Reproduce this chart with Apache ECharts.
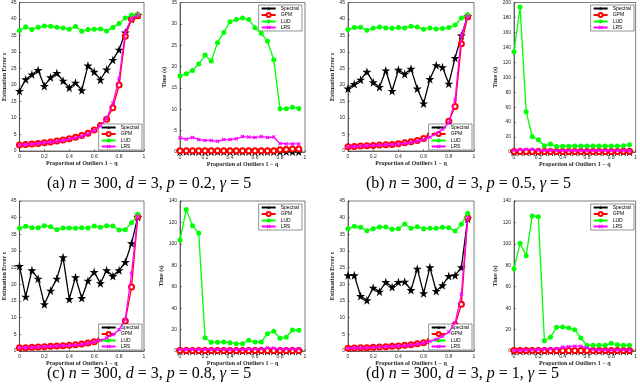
<!DOCTYPE html>
<html>
<head>
<meta charset="utf-8">
<script src="https://cdn.jsdelivr.net/npm/echarts@6/dist/echarts.min.js"></script>
<style>
html, body { margin: 0; padding: 0; background: #fff; }
#chart { width: 640px; height: 392px; }
</style>
</head>
<body>
<div id="chart"></div>
<script>
// proportion of outliers 1 - q
const xs = [0, 0.05, 0.1, 0.15, 0.2, 0.25, 0.3, 0.35, 0.4, 0.45, 0.5, 0.55, 0.6, 0.65, 0.7, 0.75, 0.8, 0.85, 0.9, 0.95];
const methodNames = ['Spectral', 'GPM', 'LUD', 'LRS'];

// (a) p = 0.2
const errSpecA = [18.2, 21.7, 23.2, 24.5, 19.7, 22.3, 23.6, 21.3, 19.2, 20.7, 18.4, 25.9, 24.0, 21.6, 24.7, 27.6, 30.7, 35.9, 40.0, 41.2];
const errGpmA  = [1.8, 2.0, 2.1, 2.3, 2.5, 2.7, 3.0, 3.3, 3.7, 4.2, 4.7, 5.4, 6.4, 7.7, 9.6, 13.1, 20.0, 34.8, 40.0, 41.0];
const errLudA  = [36.5, 37.6, 36.8, 37.5, 37.9, 37.8, 37.5, 37.3, 36.9, 37.7, 36.3, 36.8, 36.9, 37.0, 36.4, 37.4, 38.6, 40.3, 41.2, 41.3];
const errLrsA  = [1.8, 2.0, 2.1, 2.3, 2.5, 2.7, 2.9, 3.2, 3.6, 4.0, 4.5, 5.2, 6.2, 7.6, 9.8, 14.5, 22.0, 36.0, 40.2, 41.1];
const timeSpecA = [0.1, 0.1, 0.1, 0.1, 0.1, 0.1, 0.1, 0.1, 0.1, 0.1, 0.1, 0.1, 0.1, 0.1, 0.1, 0.1, 0.1, 0.1, 0.1, 0.1];
const timeGpmA  = [0.3, 0.3, 0.3, 0.3, 0.3, 0.3, 0.3, 0.3, 0.3, 0.3, 0.3, 0.3, 0.3, 0.3, 0.3, 0.3, 0.5, 0.6, 0.7, 0.7];
const timeLudA  = [17.8, 18.3, 19.1, 20.6, 22.7, 21.3, 25.6, 28.0, 30.5, 31.0, 31.4, 31.0, 29.1, 27.8, 25.9, 21.6, 10.1, 10.1, 10.5, 10.2];
const timeLrsA  = [3.3, 3.0, 3.4, 2.9, 2.7, 2.7, 2.5, 2.9, 2.9, 3.1, 3.6, 3.5, 3.4, 3.6, 3.4, 3.5, 2.0, 1.9, 1.9, 1.9];

// (b) p = 0.5
const errSpecB = [18.9, 20.3, 21.6, 24.0, 20.8, 19.4, 24.4, 18.2, 24.6, 23.3, 24.9, 18.9, 14.4, 21.8, 26.0, 25.4, 20.4, 28.2, 35.0, 40.9];
const errGpmB  = [1.3, 1.4, 1.5, 1.6, 1.7, 1.8, 1.9, 2.0, 2.2, 2.5, 2.8, 3.2, 3.8, 4.6, 5.5, 7.0, 9.0, 13.5, 32.5, 40.7];
const errLudB  = [36.8, 37.4, 37.5, 36.6, 37.2, 37.6, 37.3, 37.2, 37.4, 37.3, 37.8, 37.6, 36.9, 37.3, 37.0, 37.1, 37.4, 38.2, 40.3, 41.3];
const errLrsB  = [1.3, 1.4, 1.5, 1.6, 1.7, 1.8, 1.9, 2.0, 2.1, 2.3, 2.6, 3.0, 3.5, 4.2, 5.2, 6.6, 8.5, 15.5, 35.0, 40.8];
const timeSpecB = [0.2, 0.2, 0.2, 0.2, 0.2, 0.2, 0.2, 0.2, 0.2, 0.2, 0.2, 0.2, 0.2, 0.2, 0.2, 0.2, 0.2, 0.2, 0.2, 0.2];
const timeGpmB  = [0.8, 0.8, 0.8, 0.8, 0.8, 0.8, 0.8, 0.8, 0.8, 0.8, 0.8, 0.8, 0.8, 0.8, 0.8, 0.8, 0.8, 0.8, 0.9, 1.0];
const timeLudB  = [134, 194, 54, 20.4, 16.4, 8.4, 10.6, 7.5, 7.8, 7.8, 7.9, 8.0, 8.0, 8.0, 8.0, 8.0, 8.0, 8.0, 8.2, 9.8];
const timeLrsB  = [2.0, 3.0, 3.5, 3.5, 2.5, 2.0, 2.0, 2.0, 2.0, 2.0, 2.0, 2.0, 2.0, 2.0, 2.0, 2.0, 2.0, 2.0, 2.0, 2.0];

// (c) p = 0.8
const errSpecC = [25.5, 16.3, 24.2, 21.7, 14.0, 18.1, 21.7, 28.1, 15.6, 22.1, 15.9, 21.1, 23.7, 20.3, 24.2, 22.5, 24.2, 26.7, 32.3, 40.2];
const errGpmC  = [1.0, 1.0, 1.1, 1.2, 1.3, 1.4, 1.5, 1.6, 1.7, 1.9, 2.1, 2.4, 2.8, 3.3, 4.0, 5.0, 6.5, 9.0, 19.2, 40.3];
const errLudC  = [36.8, 37.4, 37.0, 37.0, 37.6, 37.3, 36.4, 36.9, 36.9, 36.8, 37.0, 36.9, 37.5, 37.1, 37.6, 37.5, 36.3, 36.4, 38.5, 41.0];
const errLrsC  = [1.0, 1.0, 1.1, 1.2, 1.3, 1.4, 1.5, 1.6, 1.7, 1.8, 2.0, 2.3, 2.7, 3.2, 3.9, 4.9, 6.4, 9.5, 23.3, 40.5];
const timeSpecC = [0.1, 0.1, 0.1, 0.1, 0.1, 0.1, 0.1, 0.1, 0.1, 0.1, 0.1, 0.1, 0.1, 0.1, 0.1, 0.1, 0.1, 0.1, 0.1, 0.1];
const timeGpmC  = [0.5, 0.5, 0.5, 0.5, 0.5, 0.5, 0.5, 0.5, 0.5, 0.5, 0.5, 0.5, 0.5, 0.5, 0.5, 0.5, 0.5, 0.5, 0.5, 0.5];
const timeLudC  = [103.6, 132, 117, 109.8, 12.4, 8.1, 8.1, 8.4, 7.8, 6.8, 6.8, 10.0, 8.4, 8.4, 16.2, 18.4, 11.8, 12.8, 19.6, 19.3];
const timeLrsC  = [1.5, 1.5, 1.5, 1.5, 1.5, 1.5, 1.5, 1.5, 1.5, 1.5, 1.5, 1.8, 1.8, 1.8, 3.0, 2.5, 1.8, 1.8, 1.8, 1.8];

// (d) p = 1
const errSpecD = [22.7, 22.7, 16.5, 15.2, 19.0, 17.8, 20.7, 19.2, 20.7, 20.8, 18.3, 24.7, 17.3, 25.1, 18.0, 19.7, 22.5, 22.7, 25.1, 39.7];
const errGpmD  = [0.8, 0.9, 0.95, 1.0, 1.1, 1.2, 1.3, 1.4, 1.5, 1.7, 1.9, 2.2, 2.5, 3.0, 3.6, 4.5, 5.8, 7.8, 14.0, 40.0];
const errLudD  = [36.7, 37.4, 37.1, 36.1, 36.7, 37.2, 37.2, 36.5, 36.7, 38.1, 36.8, 37.3, 36.7, 36.8, 36.8, 37.1, 37.0, 36.0, 38.0, 41.3];
const errLrsD  = [0.8, 0.9, 0.95, 1.0, 1.1, 1.2, 1.3, 1.4, 1.5, 1.6, 1.8, 2.1, 2.4, 2.9, 3.5, 4.4, 5.7, 8.5, 17.0, 40.0];
const timeSpecD = [0.1, 0.1, 0.1, 0.1, 0.1, 0.1, 0.1, 0.1, 0.1, 0.1, 0.1, 0.1, 0.1, 0.1, 0.1, 0.1, 0.1, 0.1, 0.1, 0.1];
const timeGpmD  = [0.5, 0.5, 0.5, 0.5, 0.5, 0.5, 0.5, 0.5, 0.5, 0.5, 0.5, 0.5, 0.5, 0.5, 0.5, 0.5, 0.5, 0.5, 0.5, 0.5];
const timeLudD  = [76.8, 100.5, 89, 126, 125.4, 9.6, 12.8, 22.1, 22.4, 21.5, 19.9, 12.1, 5.3, 5.3, 5.3, 5.3, 7.2, 5.9, 5.3, 5.3];
const timeLrsD  = [0.5, 0.8, 1.0, 1.0, 1.5, 1.5, 2.0, 2.0, 3.5, 4.0, 4.5, 4.5, 3.0, 1.5, 1.0, 1.0, 1.0, 1.0, 1.0, 1.0];

const captions = [
    '(a) {i|n} = 300, {i|d} = 3, {i|p} = 0.2, {i|γ} = 5',
    '(b) {i|n} = 300, {i|d} = 3, {i|p} = 0.5, {i|γ} = 5',
    '(c) {i|n} = 300, {i|d} = 3, {i|p} = 0.8, {i|γ} = 5',
    '(d) {i|n} = 300, {i|d} = 3, {i|p} = 1, {i|γ} = 5'
];

const starPath = 'path://M50,0 L61,35 L98,35 L68,57 L79,91 L50,70 L21,91 L32,57 L2,35 L39,35 Z';
const crossPath = 'path://M0,2 L2,0 L5,3 L8,0 L10,2 L7,5 L10,8 L8,10 L5,7 L2,10 L0,8 L3,5 Z';

const looks = [
    { color: '#000000', symbol: starPath, size: 9 },
    { color: '#ff0000', symbol: 'emptyCircle', size: 5 },
    { color: '#00ff00', symbol: 'circle', size: 5 },
    { color: '#ff00ff', symbol: crossPath, size: 4 }
];

// grid box: [left, top, width, height]
const panels = [
    { box: [14, 2, 130, 149], max: 45, step: 5, name: 'Estimation Error ε', gap: 8, legend: 'br', series: [errSpecA, errGpmA, errLudA, errLrsA] },
    { box: [180, 2, 125, 150], max: 35, step: 5, name: 'Time (s)', gap: 9, legend: 'tr', series: [timeSpecA, timeGpmA, timeLudA, timeLrsA] },
    { box: [348, 2, 126, 149], max: 45, step: 5, name: 'Estimation Error ε', gap: 8, legend: 'br', series: [errSpecB, errGpmB, errLudB, errLrsB] },
    { box: [514, 2, 123, 150], max: 200, step: 20, name: 'Time (s)', gap: 12, legend: 'tr', series: [timeSpecB, timeGpmB, timeLudB, timeLrsB] },
    { box: [14, 201, 130, 150], max: 45, step: 5, name: 'Estimation Error ε', gap: 8, legend: 'br', series: [errSpecC, errGpmC, errLudC, errLrsC] },
    { box: [180, 201, 125, 150], max: 140, step: 20, name: 'Time (s)', gap: 12, legend: 'tr', series: [timeSpecC, timeGpmC, timeLudC, timeLrsC] },
    { box: [348, 201, 126, 150], max: 45, step: 5, name: 'Estimation Error ε', gap: 8, legend: 'br', series: [errSpecD, errGpmD, errLudD, errLrsD] },
    { box: [514, 201, 123, 150], max: 140, step: 20, name: 'Time (s)', gap: 12, legend: 'tr', series: [timeSpecD, timeGpmD, timeLudD, timeLrsD] }
];

const tickFont = { fontFamily: 'Liberation Sans', fontSize: 5, color: '#262626' };
const nameFont = { fontFamily: 'Liberation Serif', fontSize: 6, fontWeight: 'bold', color: '#262626' };

const grids = [], xAxes = [], yAxes = [], legends = [], seriesList = [];

panels.forEach((p, k) => {
    const [l, t, w, h] = p.box;
    grids.push({
        left: l, top: t, width: w, height: h,
        show: true, borderColor: '#262626', borderWidth: 0.6, backgroundColor: '#fff'
    });
    xAxes.push({
        gridIndex: k, type: 'value', min: 0, max: 1, interval: 0.2,
        name: 'Proportion of Outliers 1 − q', nameLocation: 'middle', nameGap: 9,
        nameTextStyle: nameFont,
        axisLine: { lineStyle: { color: '#262626', width: 0.6 } },
        axisTick: { inside: true, length: 2, lineStyle: { width: 0.5 } },
        axisLabel: Object.assign({ margin: 3 }, tickFont),
        splitLine: { show: false }
    });
    yAxes.push({
        gridIndex: k, type: 'value', min: 0, max: p.max, interval: p.step,
        name: p.name, nameLocation: 'middle', nameGap: p.gap,
        nameTextStyle: nameFont,
        axisLine: { show: true, lineStyle: { color: '#262626', width: 0.6 } },
        axisTick: { show: true, inside: true, length: 2, lineStyle: { width: 0.5 } },
        axisLabel: Object.assign({ margin: 3 }, tickFont),
        splitLine: { show: false }
    });
    const lg = {
        orient: 'vertical', itemWidth: 14, itemHeight: 5, itemGap: 1,
        padding: [1, 3, 1, 2], backgroundColor: '#fff',
        borderColor: '#262626', borderWidth: 0.5,
        textStyle: { fontFamily: 'Liberation Sans', fontSize: 5, color: '#000' },
        data: methodNames, selectedMode: false
    };
    if (p.legend === 'br') {
        lg.right = 640 - (l + w) + 2;
        lg.bottom = 392 - (t + h) + 1;
    } else {
        lg.right = 640 - (l + w) + 3;
        lg.top = t + 3;
    }
    legends.push(lg);

    p.series.forEach((vals, s) => {
        const look = looks[s];
        seriesList.push({
            name: methodNames[s], type: 'line',
            xAxisIndex: k, yAxisIndex: k,
            data: xs.map((x, i) => [x, vals[i]]),
            symbol: look.symbol, symbolSize: look.size,
            showAllSymbol: true,
            lineStyle: { color: look.color, width: 1.3 },
            itemStyle: { color: look.color, borderColor: look.color, borderWidth: s === 1 ? 1 : 0 },
            emphasis: { disabled: true },
            animation: false, z: 2 + s
        });
    });
});

const titles = captions.map((c, k) => ({
    text: c,
    left: k % 2 === 0 ? 47 : 366,
    top: k < 2 ? 176 : 366,
    padding: 0,
    textStyle: {
        fontFamily: 'Liberation Serif', fontSize: 16, fontWeight: 'normal', color: '#000',
        rich: { i: { fontFamily: 'Liberation Serif', fontSize: 16, fontStyle: 'italic', color: '#000' } }
    }
}));

const myChart = echarts.init(document.getElementById('chart'));
myChart.setOption({
    animation: false,
    backgroundColor: '#fff',
    title: titles,
    grid: grids,
    xAxis: xAxes,
    yAxis: yAxes,
    legend: legends,
    series: seriesList
});
</script>
</body>
</html>
